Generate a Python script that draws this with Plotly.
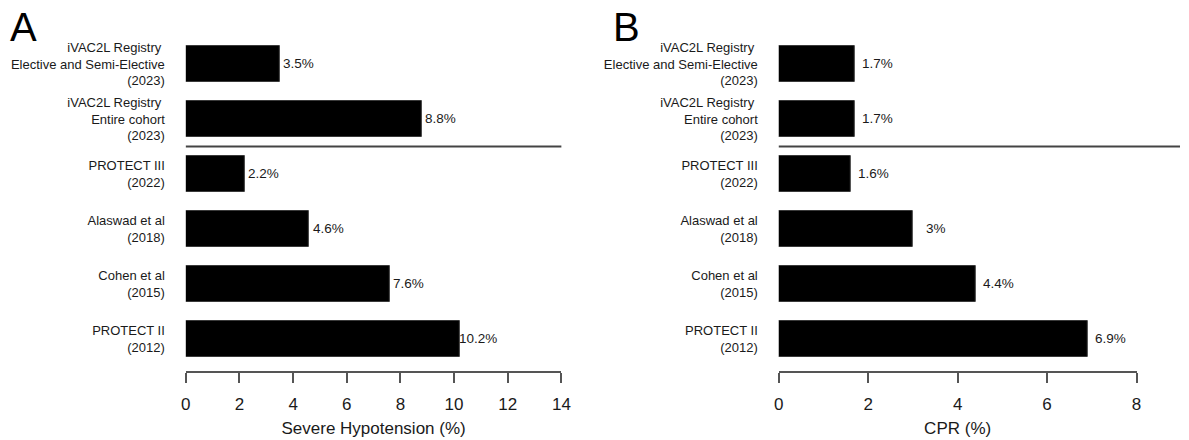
import plotly.graph_objects as go

# Study labels (top to bottom) and event rates in percent
studies = [
    "iVAC2L Registry\u00a0<br>Elective and Semi-Elective<br>(2023)",
    "iVAC2L Registry\u00a0<br>Entire cohort<br>(2023)",
    "PROTECT III<br>(2022)",
    "Alaswad et al<br>(2018)",
    "Cohen et al<br>(2015)",
    "PROTECT II<br>(2012)",
]
hypotension = [3.5, 8.8, 2.2, 4.6, 7.6, 10.2]
cpr = [1.7, 1.7, 1.6, 3.0, 4.4, 6.9]

hypo_ticks = [0, 2, 4, 6, 8, 10, 12, 14]
cpr_ticks = [0, 2, 4, 6, 8]

W, H = 1189, 440
FONT = "Liberation Sans, Arial, sans-serif"
TXT = "#1a1a1a"
AX = "#555555"

rows = list(range(len(studies)))
y_range = [5.582, -0.509]
y_dom = [1 - 371 / H, 1 - 36 / H]
xa_dom = [183 / W, 563 / W]
xb_dom = [783 / W, 1145 / W]


def y_paper(v):
    frac = (y_range[0] - v) / (y_range[0] - y_range[1])
    return y_dom[0] + frac * (y_dom[1] - y_dom[0])


fig = go.Figure()
for vals, xa, ya in [(hypotension, "x", "y"), (cpr, "x2", "y2")]:
    fig.add_trace(go.Bar(
        x=vals, y=rows, orientation="h", width=0.67,
        marker=dict(color="black", line=dict(color="#3a3a3a", width=1)),
        xaxis=xa, yaxis=ya, hoverinfo="skip", showlegend=False,
    ))

annotations = []
for vals, xa, ya, shift in [(hypotension, "x", "y", 19), (cpr, "x2", "y2", 23)]:
    for r, v in zip(rows, vals):
        annotations.append(dict(
            x=v, y=r, xref=xa, yref=ya, text=f"{v:g}%", showarrow=False,
            xanchor="center", yanchor="middle", xshift=shift,
            font=dict(size=13.5, color=TXT, family=FONT),
        ))

for letter, px in [("A", 3), ("B", 613)]:
    annotations.append(dict(
        x=px / W, y=1 - 3 / H, xref="paper", yref="paper", text=letter,
        showarrow=False, xanchor="left", yanchor="top",
        font=dict(size=40, color="black", family=FONT),
    ))

common_x = dict(
    showgrid=False, zeroline=False, showline=True, linecolor=AX, linewidth=1.5,
    ticks="outside", ticklen=10, tickwidth=1.5, tickcolor=AX,
    ticklabelstandoff=7,
    tickfont=dict(size=17, color=TXT, family=FONT),
    title=dict(font=dict(size=17, color=TXT, family=FONT), standoff=9),
)
common_y = dict(
    domain=y_dom, range=y_range, tickvals=rows, ticktext=studies,
    showgrid=False, zeroline=False, showline=False, ticks="",
    ticklabelstandoff=20,
    tickfont=dict(size=13, color=TXT, family=FONT),
)

sep_y = y_paper(1.5)
shapes = [
    dict(type="line", xref="paper", yref="paper", x0=xa_dom[0], x1=xa_dom[1],
         y0=sep_y, y1=sep_y, line=dict(color="#444444", width=2)),
    dict(type="line", xref="paper", yref="paper", x0=xb_dom[0], x1=1.0,
         y0=sep_y, y1=sep_y, line=dict(color="#444444", width=2)),
]

fig.update_layout(
    width=W, height=H, margin=dict(l=0, r=0, t=0, b=0),
    paper_bgcolor="white", plot_bgcolor="white",
    xaxis=dict(domain=xa_dom, range=[0, 14], tickvals=hypo_ticks, anchor="y",
               title_text="Severe Hypotension (%)", **common_x),
    yaxis=dict(anchor="x", **common_y),
    xaxis2=dict(domain=xb_dom, range=[0, 8], tickvals=cpr_ticks, anchor="y2",
                title_text="CPR (%)", **common_x),
    yaxis2=dict(anchor="x2", **common_y),
    annotations=annotations, shapes=shapes, bargap=0,
)

fig.write_html("out.html")
